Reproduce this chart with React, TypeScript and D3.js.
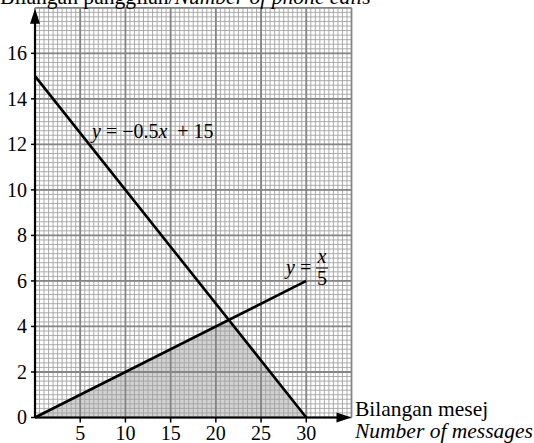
import React from "react";
import * as d3 from "d3";

// Axis ticks
const xTickValues = [5, 10, 15, 20, 25, 30];
const yTickValues = [0, 2, 4, 6, 8, 10, 12, 14, 16];

// Grid extent (graph-paper area)
const xMax = 35;
const yMax = 18;

// Line y = -0.5x + 15, drawn from x = 0 to x = 30
const callsLine: [number, number][] = [
  [0, 15],
  [30, 0],
];
// Line y = x / 5, drawn from x = 0 to x = 30
const ratioLine: [number, number][] = [
  [0, 0],
  [30, 6],
];

const W = 534;
const H = 443;
const serif = { fontFamily: '"Liberation Serif"' };
const serifItalic = { fontFamily: '"Liberation Serif"', fontStyle: "italic" as const };

export default function App() {
  const x = d3.scaleLinear().domain([0, xMax]).range([35, 351.5]);
  const y = d3.scaleLinear().domain([0, yMax]).range([417.5, 7.8]);

  // Intersection of the two lines -> vertex of the feasible region
  const ix = 15 / (0.5 + 1 / 5);
  const iy = ix / 5;
  const region: [number, number][] = [
    [0, 0],
    [ix, iy],
    [30, 0],
  ];

  const line = d3
    .line<[number, number]>()
    .x((d) => x(d[0]))
    .y((d) => y(d[1]));

  const minorX = d3.range(0, xMax + 0.001, 0.5);
  const minorY = d3.range(0, yMax + 0.001, 0.2);
  const majorX = d3.range(0, xMax + 0.001, 5);
  const majorY = d3.range(0, yMax + 0.001, 2);

  const x0 = x(0);
  const y0 = y(0);

  return (
    <svg
      width={W}
      height={H}
      style={{ position: "absolute", left: 0, top: 0, background: "#fff" }}
    >
      {/* shaded feasible region */}
      <path d={line(region) + "Z"} fill="#d2d2d2" stroke="none" />

      {/* minor grid */}
      <g stroke="#a3a3a3" strokeWidth={0.9}>
        {minorX.map((v) => (
          <line key={"mx" + v} x1={x(v)} x2={x(v)} y1={y(0)} y2={y(yMax)} />
        ))}
        {minorY.map((v) => (
          <line key={"my" + v} x1={x(0)} x2={x(xMax)} y1={y(v)} y2={y(v)} />
        ))}
      </g>
      {/* major grid */}
      <g stroke="#858585" strokeWidth={1.8}>
        {majorX.map((v) => (
          <line key={"Mx" + v} x1={x(v)} x2={x(v)} y1={y(0)} y2={y(yMax)} />
        ))}
        {majorY.map((v) => (
          <line key={"My" + v} x1={x(0)} x2={x(xMax)} y1={y(v)} y2={y(v)} />
        ))}
      </g>

      {/* axes */}
      <g stroke="#000" strokeWidth={2.2}>
        <line x1={x0} x2={x0} y1={y0} y2={y(yMax) + 10} />
        <line x1={x0} x2={x(xMax) - 10} y1={y0} y2={y0} />
        {yTickValues.map((v) => (
          <line key={"yt" + v} x1={x0 - 4} x2={x0} y1={y(v)} y2={y(v)} strokeWidth={1.5} />
        ))}
        {xTickValues.map((v) => (
          <line key={"xt" + v} x1={x(v)} x2={x(v)} y1={y0} y2={y0 + 5} strokeWidth={1.5} />
        ))}
      </g>
      {/* arrow heads */}
      <path
        d={`M${x0},${y(yMax) + 1} L${x0 - 5},${y(yMax) + 16} L${x0 + 5},${y(yMax) + 16} Z`}
        fill="#000"
      />
      <path
        d={`M${x(xMax)},${y0} L${x(xMax) - 15},${y0 - 5} L${x(xMax) - 15},${y0 + 5} Z`}
        fill="#000"
      />

      {/* tick labels */}
      <g fontSize={20} fill="#000">
        {yTickValues.map((v) => (
          <text key={"yl" + v} x={x0 - 8} y={y(v)} dy="0.34em" textAnchor="end" style={serif}>
            {v}
          </text>
        ))}
        {xTickValues.map((v) => (
          <text key={"xl" + v} x={x(v)} y={440} textAnchor="middle" style={serif}>
            {v}
          </text>
        ))}
      </g>

      {/* lines */}
      <path d={line(callsLine) ?? ""} fill="none" stroke="#000" strokeWidth={2.6} />
      <path d={line(ratioLine) ?? ""} fill="none" stroke="#000" strokeWidth={2.6} />

      {/* equation labels */}
      <text x={92} y={138} fontSize={20} fill="#000" style={serif}>
        <tspan style={serifItalic}>y</tspan>
        <tspan style={serif}> = −0.5</tspan>
        <tspan style={serifItalic}>x</tspan>
        <tspan style={serif}>{"\u00a0\u00a0+ 15"}</tspan>
      </text>
      <g fontSize={20} fill="#000">
        <text x={286} y={274} style={serif}>
          <tspan style={serifItalic}>y</tspan>
          <tspan style={serif}> =</tspan>
        </text>
        <text x={322} y={263} textAnchor="middle" style={serifItalic}>
          x
        </text>
        <line x1={316} x2={328} y1={268} y2={268} stroke="#000" strokeWidth={1} />
        <text x={322} y={285} textAnchor="middle" style={serif}>
          5
        </text>
      </g>

      {/* axis titles */}
      <text x={0} y={4} fontSize={21.6} fill="#000" style={serif}>
        <tspan style={serif}>Bilangan panggilan/</tspan>
        <tspan style={serifItalic}>Number of phone calls</tspan>
      </text>
      <text x={355} y={416} fontSize={21.5} fill="#000" style={serif}>
        Bilangan mesej
      </text>
      <text x={355} y={438} fontSize={21.5} fill="#000" style={serifItalic}>
        Number of messages
      </text>
    </svg>
  );
}
